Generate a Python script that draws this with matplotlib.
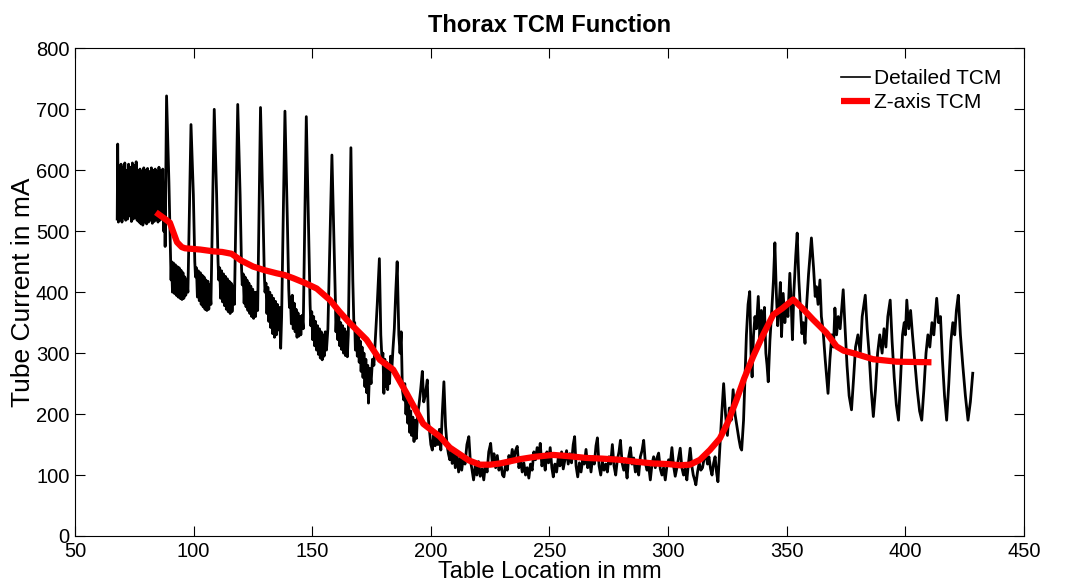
import matplotlib.pyplot as plt

# Detailed TCM (x in mm, y in mA)
tcm_block = [
    (67.8, 520), (68.0, 643), (68.3, 515), (68.6, 600), (69.0, 520), (69.4, 610),
    (69.8, 515), (70.2, 605), (70.6, 522), (71.0, 612), (71.4, 518), (71.8, 600),
    (72.2, 520), (72.6, 610), (73.0, 525), (73.4, 605), (73.8, 516), (74.2, 612),
    (74.6, 520), (75.0, 608), (75.4, 522), (75.8, 614), (76.2, 518), (76.6, 600),
    (77.0, 515), (77.4, 602), (77.8, 512), (78.2, 598), (78.6, 510), (79.0, 604),
    (79.4, 515), (79.8, 600), (80.2, 512), (80.6, 603), (81.0, 515), (81.4, 598),
    (81.8, 518), (82.2, 604), (82.6, 513), (83.0, 600), (83.4, 516), (83.8, 602),
    (84.2, 520), (84.6, 598), (85.0, 515), (85.4, 605), (85.8, 518), (86.2, 600),
    (86.6, 520), (87.0, 602), (87.4, 500), (87.8, 560), (88.0, 475),
]

tcm_spikes = [
    (88.6, 722), (89.6, 580), (90.2, 470), (90.5, 420), (90.7, 450), (91.1, 400),
    (91.5, 448), (91.9, 398), (92.3, 445), (92.7, 395), (93.1, 442), (93.5, 392),
    (93.9, 440), (94.3, 390), (94.7, 436), (95.1, 388), (95.5, 432), (95.9, 390),
    (96.3, 425), (96.7, 395), (97.1, 420), (97.6, 400),
    (98.9, 675), (99.9, 560), (100.5, 450), (100.8, 425), (101.2, 440), (101.6, 392),
    (102.0, 435), (102.4, 386), (102.8, 432), (103.2, 380), (103.6, 428), (104.0, 376),
    (104.4, 425), (104.8, 372), (105.2, 420), (105.6, 370), (106.0, 418), (106.4, 372),
    (106.8, 412), (107.3, 380),
    (108.7, 700), (109.7, 560), (110.3, 450), (110.6, 420), (111.0, 440), (111.4, 390),
    (111.8, 435), (112.2, 384), (112.6, 430), (113.0, 378), (113.4, 426), (113.8, 372),
    (114.2, 422), (114.6, 368), (115.0, 418), (115.4, 365), (115.8, 415), (116.2, 368),
    (116.7, 410), (117.2, 380),
    (118.6, 708), (119.6, 560), (120.2, 440), (120.5, 412), (120.9, 430), (121.3, 382),
    (121.7, 425), (122.1, 376), (122.5, 420), (122.9, 370), (123.3, 415), (123.7, 365),
    (124.1, 410), (124.5, 360), (124.9, 405), (125.3, 357), (125.7, 400), (126.1, 360),
    (126.6, 400), (127.0, 370),
    (128.2, 703), (129.2, 540), (129.8, 430), (130.1, 400), (130.5, 415), (130.9, 365),
    (131.3, 408), (131.7, 352), (132.1, 400), (132.5, 342), (132.9, 395), (133.3, 332),
    (133.7, 390), (134.1, 326), (134.5, 385), (134.9, 330), (135.3, 380), (135.7, 338),
    (136.2, 375), (136.7, 308), (137.1, 360),
    (138.5, 697), (139.5, 520), (140.1, 405), (140.4, 375), (140.8, 392), (141.2, 348),
    (141.6, 395), (142.0, 340), (142.4, 382), (142.8, 335), (143.2, 372), (143.6, 326),
    (144.0, 366), (144.4, 328), (144.8, 360), (145.2, 330), (145.7, 362), (146.2, 340),
    (147.5, 688), (148.5, 500), (149.1, 380), (149.4, 345), (149.8, 368), (150.2, 322),
    (150.6, 360), (151.0, 312), (151.4, 352), (151.8, 305), (152.2, 345), (152.6, 298),
    (153.0, 340), (153.4, 292), (153.8, 335), (154.2, 289), (154.6, 330), (155.0, 295),
    (155.5, 335), (156.0, 305), (156.6, 340),
    (158.3, 625), (159.2, 480), (159.8, 380), (160.0, 335), (160.4, 370), (160.8, 322),
    (161.2, 360), (161.6, 312), (162.0, 350), (162.4, 306), (162.8, 345), (163.2, 300),
    (163.6, 340), (164.0, 296), (164.4, 335), (164.8, 294), (165.2, 330),
    (166.3, 637),
]

tcm_descent = [
    (167.1, 420), (167.6, 340), (167.9, 350), (168.2, 305), (168.6, 340), (169.0, 295),
    (169.4, 330), (169.8, 285), (170.2, 320), (170.6, 270), (171.0, 310), (171.4, 260),
    (171.8, 300), (172.2, 245), (172.6, 290), (173.0, 235), (173.4, 280), (173.7, 218),
    (174.2, 275), (174.8, 250), (175.4, 290), (176.0, 280), (176.7, 330), (177.4, 380),
    (178.3, 455),
    (178.9, 330), (179.4, 290), (179.8, 300), (180.2, 234), (180.6, 290), (181.0, 245),
    (181.4, 285), (181.8, 240), (182.2, 280), (182.6, 250), (183.0, 295), (183.5, 270),
    (184.0, 305), (184.6, 340), (185.2, 400), (185.8, 450), (186.5, 330), (187.0, 300),
    (187.5, 335), (188.0, 240), (188.6, 223), (189.0, 250), (189.5, 200), (189.9, 230),
    (190.3, 185), (190.7, 215), (191.1, 170), (191.5, 205), (191.9, 165), (192.4, 195),
    (192.9, 155), (193.4, 190), (193.9, 160), (194.4, 200), (195.0, 215), (195.7, 240),
    (196.4, 270), (197.0, 220), (197.6, 230), (198.5, 256), (199.0, 190), (199.5, 170),
    (200.0, 150), (200.6, 141), (201.2, 165), (201.8, 148), (202.4, 170), (203.0, 150),
    (203.6, 175), (204.2, 141), (204.8, 200), (205.5, 253), (206.2, 180), (206.8, 150),
    (207.4, 135), (208.0, 125), (208.6, 140), (209.0, 119),
]

tcm_plateau = [
    (209.7, 140), (210.3, 112), (211.0, 135), (211.7, 105), (212.4, 128), (213.0, 108),
    (213.7, 130), (214.4, 118), (215.2, 150), (216.0, 163), (216.6, 125), (217.3, 110),
    (218.0, 92), (218.7, 115), (219.4, 100), (220.1, 122), (220.8, 98), (221.6, 110),
    (222.3, 92), (223.0, 118), (223.7, 105), (224.4, 138), (225.2, 152), (225.9, 120),
    (226.6, 135), (227.3, 112), (228.0, 132), (228.7, 108), (229.5, 120), (230.2, 100),
    (230.8, 97), (231.5, 118), (232.2, 108), (232.9, 132), (233.6, 120), (234.3, 142),
    (235.0, 126), (235.7, 140), (236.4, 147), (237.1, 112), (237.8, 125), (238.5, 105),
    (239.2, 120), (239.9, 100), (240.6, 112), (241.3, 95), (242.0, 118), (242.7, 108),
    (243.4, 138), (244.1, 125), (244.8, 145), (245.5, 130), (246.1, 152), (246.8, 115),
    (247.5, 128), (248.2, 108), (248.9, 138), (249.6, 120), (250.3, 145), (251.0, 112),
    (251.6, 97), (252.3, 118), (253.0, 105), (253.7, 128), (254.4, 115), (255.1, 138),
    (255.8, 110), (256.5, 125), (257.2, 140), (257.9, 118), (258.6, 135), (259.3, 120),
    (260.0, 150), (260.6, 163), (261.2, 115), (261.9, 97), (262.6, 120), (263.3, 105),
    (264.0, 125), (264.7, 118), (265.4, 142), (266.1, 112), (266.8, 128), (267.5, 105),
    (268.2, 130), (268.9, 118), (269.6, 148), (270.2, 161), (270.9, 115), (271.6, 100),
    (272.3, 122), (273.0, 108), (273.7, 118), (274.4, 105), (275.1, 130), (275.8, 118),
    (276.5, 150), (277.2, 115), (277.9, 100), (278.6, 125), (279.3, 138), (279.9, 157),
    (280.6, 120), (281.3, 108), (282.0, 118), (282.7, 95), (283.4, 130), (284.1, 145),
    (284.8, 118), (285.5, 128), (286.2, 105), (286.9, 115), (287.6, 100), (288.3, 130),
    (289.0, 140), (289.7, 157), (290.4, 120), (291.1, 108), (291.8, 115), (292.5, 92),
    (293.2, 118), (293.9, 130), (294.6, 112), (295.3, 128), (296.0, 136), (296.7, 110),
    (297.4, 100), (298.1, 112), (298.8, 92), (299.5, 115), (300.2, 125), (300.9, 118),
    (301.6, 145), (302.3, 115), (303.0, 98), (303.7, 112), (304.4, 128), (305.1, 144),
    (305.8, 112), (306.5, 100), (307.2, 110), (307.9, 92), (308.6, 120), (309.3, 144),
    (310.0, 115), (310.6, 100), (311.2, 92), (311.7, 84), (312.4, 105), (313.1, 120),
    (313.8, 108), (314.5, 112), (315.2, 128), (315.9, 135), (316.6, 118), (317.2, 130),
    (317.9, 110), (318.5, 100), (319.2, 120), (319.8, 130), (320.4, 105), (321.0, 89),
]

tcm_rise = [
    (322.6, 200), (323.4, 250), (324.2, 200), (325.0, 165), (325.8, 210), (326.6, 190),
    (327.4, 240), (328.2, 200), (329.0, 180), (329.8, 160), (330.5, 145), (331.0, 141),
    (331.8, 190), (332.4, 260), (333.0, 330), (333.7, 380), (334.4, 401), (335.0, 290),
    (335.4, 261), (336.0, 330), (336.6, 360), (337.2, 340), (338.0, 393), (338.7, 322),
    (339.3, 370), (340.0, 330), (340.6, 375), (341.2, 300), (341.7, 280), (342.2, 253),
    (342.9, 320), (343.7, 371), (344.4, 420), (345.0, 481), (345.6, 400), (346.2, 345),
    (346.8, 380), (347.3, 416), (347.8, 327), (348.5, 398), (349.2, 350), (349.8, 380),
    (350.5, 360), (351.3, 431), (351.9, 380), (352.4, 322), (353.0, 400), (353.8, 460),
    (354.4, 497), (355.1, 420), (355.8, 370), (356.4, 332), (357.0, 350), (357.7, 316),
    (358.4, 380), (359.2, 430), (360.4, 489), (361.3, 440), (362.0, 393), (362.5, 409),
    (363.2, 380), (364.0, 420), (364.6, 360), (365.3, 338), (366.2, 290), (367.4, 234),
]

tcm_tail = [
    (368.2, 290), (369.0, 330), (369.7, 310), (370.3, 374), (371.0, 330), (371.7, 360),
    (372.5, 340), (373.8, 404), (374.6, 340), (375.4, 280), (376.3, 230), (377.3, 207),
    (378.2, 260), (379.0, 310), (380.0, 330), (381.0, 300), (381.8, 360), (383.1, 395),
    (383.9, 340), (384.7, 300), (385.6, 240), (386.5, 196), (387.4, 240), (388.3, 300),
    (389.2, 330), (390.2, 300), (391.0, 340), (391.8, 310), (392.6, 360), (393.6, 387),
    (394.4, 320), (395.3, 260), (396.2, 215), (397.1, 190), (398.0, 260), (398.8, 330),
    (399.5, 350), (400.0, 330), (400.6, 387), (401.4, 340), (402.2, 370), (403.0, 330),
    (403.9, 290), (405.0, 240), (406.0, 205), (406.9, 190), (407.8, 240), (408.7, 300),
    (409.5, 330), (410.3, 310), (411.2, 350), (412.0, 330), (413.2, 390), (414.0, 350),
    (414.8, 360), (415.6, 290), (416.5, 230), (417.4, 190), (418.3, 250), (419.2, 320),
    (420.0, 350), (420.8, 330), (421.5, 370), (422.3, 395), (423.2, 330), (424.2, 280),
    (425.3, 230), (426.4, 190), (427.4, 220), (428.4, 267),
]

# Z-axis TCM
zaxis_x = [84.1, 88.0, 90.0, 91.5, 93.0, 95.0, 96.4, 102.7, 108.3, 112.0, 116.0, 120.0,
           125.1, 130.0, 135.0, 138.5, 142.0, 147.0, 151.9, 157.5, 161.5, 165.9, 172.9,
           178.5, 184.1, 189.8, 196.8, 203.8, 208.0, 212.2, 216.0, 220.7, 225.0, 229.1,
           237.5, 244.0, 251.6, 258.0, 265.6, 272.0, 279.7, 286.0, 293.8, 300.0, 305.0,
           309.2, 313.4, 317.6, 321.8, 325.0, 328.8, 332.0, 335.8, 340.0, 344.3, 348.0,
           352.7, 357.0, 361.1, 366.8, 371.0, 374.0, 378.0, 386.4, 396.3, 411.0]
zaxis_y = [531, 520, 514, 498, 482, 474, 472, 470, 467, 466, 463, 452,
           442, 436, 431, 428, 423, 415, 406, 387, 368, 349, 322,
           289, 273, 234, 184, 163, 145, 134, 124, 117, 117, 119,
           126, 130, 133, 131, 128, 127, 125, 122, 119, 118, 116,
           117, 125, 141, 160, 185, 223, 258, 294, 330, 363, 373,
           388, 372, 355, 333, 311, 304, 300, 290, 286, 285]

detailed = tcm_block + tcm_spikes + tcm_descent + tcm_plateau + tcm_rise + tcm_tail
det_x = [p[0] for p in detailed]
det_y = [p[1] for p in detailed]

plt.rcParams['font.family'] = ['Liberation Sans', 'DejaVu Sans']

fig = plt.figure(figsize=(10.65, 5.87), dpi=100)
ax = fig.add_axes([0.0704, 0.0869, 0.8911, 0.8307])

ax.plot(det_x, det_y, color='black', lw=2.0, label='Detailed TCM')
ax.plot(zaxis_x, zaxis_y, color='#ff0000', lw=4.5, label='Z-axis TCM',
        solid_capstyle='butt')

ax.set_xlim(50, 450)
ax.set_ylim(0, 800)
ax.set_xticks(range(50, 451, 50))
ax.set_yticks(range(0, 801, 100))
ax.tick_params(direction='in', length=7, width=0.8, top=True, right=True,
               labelsize=14.5, pad=4)
for s in ax.spines.values():
    s.set_linewidth(0.8)

ax.set_title('Thorax TCM Function', fontsize=17, fontweight='bold', pad=12)
ax.set_xlabel('Table Location in mm', fontsize=17, labelpad=0)
ax.set_ylabel('Tube Current in mA', fontsize=19, labelpad=1)

leg = ax.legend(loc='upper right', bbox_to_anchor=(0.985, 0.975), frameon=False,
                fontsize=15, handlelength=1.4, handletextpad=0.2,
                labelspacing=0.25, borderaxespad=0)
leg.get_lines()[0].set_linewidth(1.2)

fig.savefig('out.png', dpi=100)
